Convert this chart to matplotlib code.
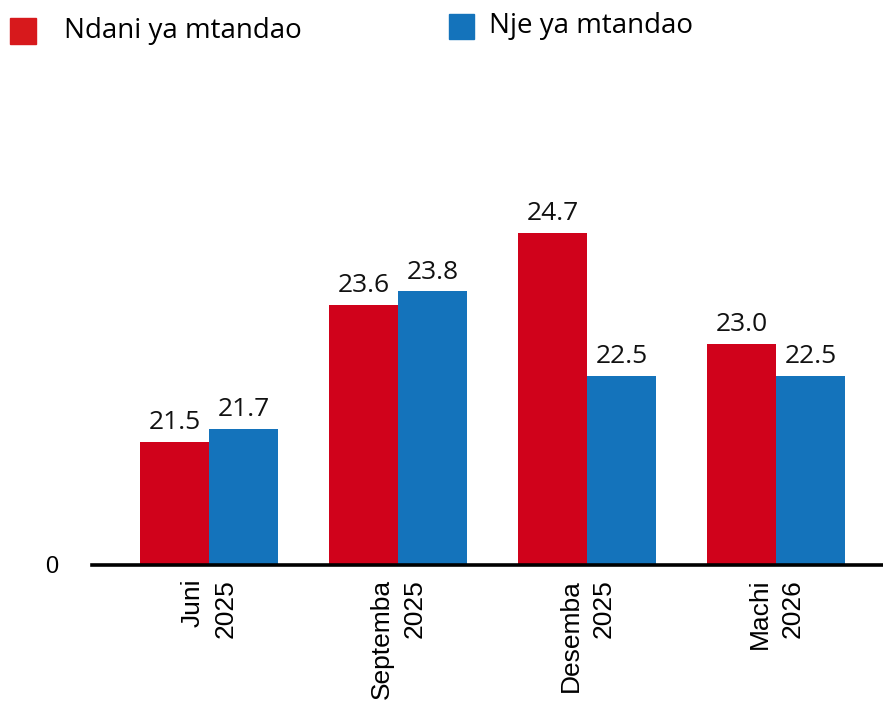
import numpy as np
import matplotlib
matplotlib.use("Agg")
from matplotlib import pyplot as plt
from matplotlib.patches import Rectangle

# data
periods = ["Juni\n2025", "Septemba\n2025", "Desemba\n2025", "Machi\n2026"]
ndani = [21.5, 23.6, 24.7, 23.0]
nje = [21.7, 23.8, 22.5, 22.5]
series_names = ["Ndani ya mtandao", "Nje ya mtandao"]

red = "#D0021B"
blue = "#1473BB"
num_font = "Open Sans"
lab_font = "Liberation Sans"

fig = plt.figure(figsize=(8.83, 7.02), dpi=100)
ax = fig.add_axes([92/883, (702-565)/702, 1-92/883, (565-80)/702])

x = np.arange(len(periods))
w = 0.365
b1 = ax.bar(x - w/2, ndani, w, color=red)
b2 = ax.bar(x + w/2, nje, w, color=blue)

ax.set_ylim(19.61, 27.04)
ax.set_xlim(-0.619, 3.566)
for bars in (b1, b2):
    ax.bar_label(bars, fmt="%.1f", padding=5, fontsize=19, family=num_font, color="#111111")

for s in ["top", "right", "left"]:
    ax.spines[s].set_visible(False)
ax.spines["bottom"].set_linewidth(2.6)
ax.spines["bottom"].set_color("black")

ax.set_yticks([19.61])
ax.set_yticklabels(["0"], fontsize=17, family=lab_font)
ax.tick_params(axis="y", length=0, pad=24)
ax.set_xticks(x)
ax.set_xticklabels(periods, rotation=90, fontsize=19, family=lab_font,
                   va="top", ha="center", multialignment="right", linespacing=1.45)
ax.tick_params(axis="x", length=0, pad=10)

# legend drawn by hand
fig.add_artist(Rectangle((10/883, 1-44/702), 26/883, 26/702, transform=fig.transFigure,
                         color="#D7191C", clip_on=False))
fig.text(64/883, 1-31/702, series_names[0], fontsize=20, family=num_font, va="center")
fig.add_artist(Rectangle((449/883, 1-39/702), 25/883, 25/702, transform=fig.transFigure,
                         color=blue, clip_on=False))
fig.text(489/883, 1-26/702, series_names[1], fontsize=20, family=num_font, va="center")

fig.savefig("out.png", dpi=100)
